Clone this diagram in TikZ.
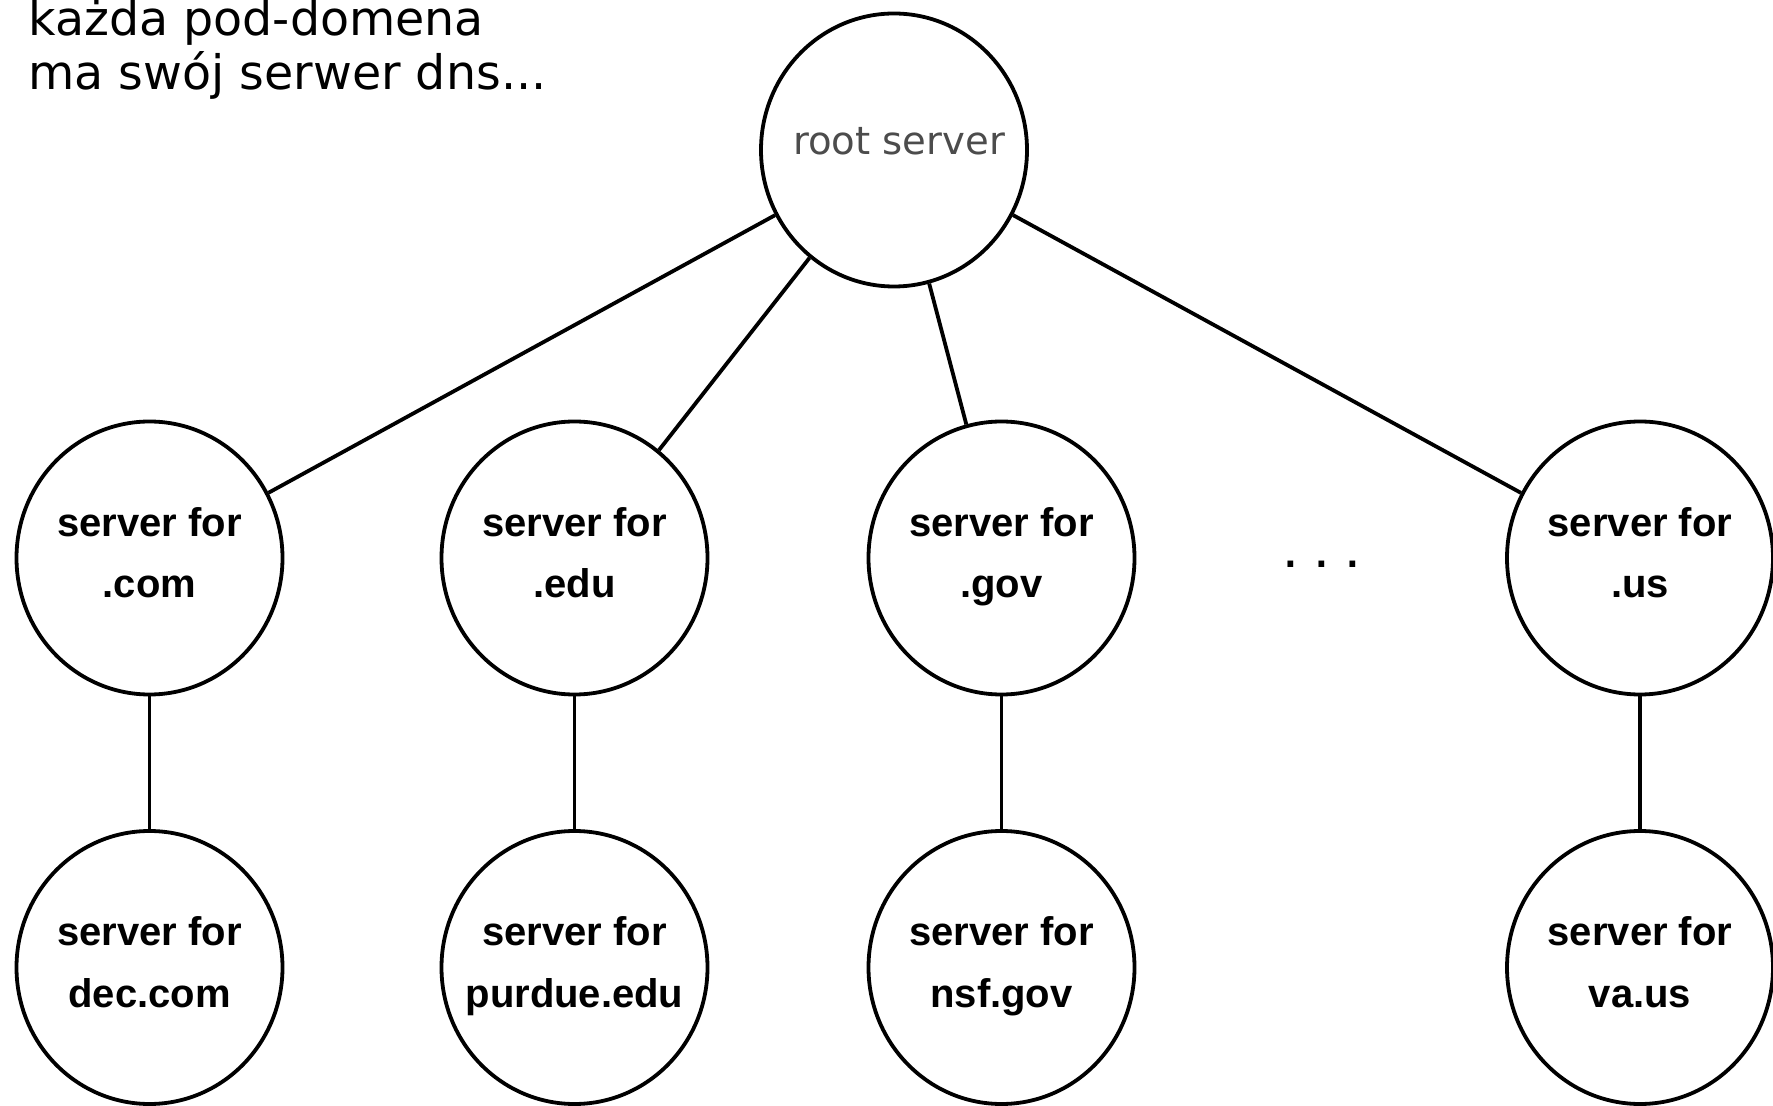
\documentclass[tikz,border=0pt]{standalone}
\usepackage{fontspec}
\usetikzlibrary{shapes.geometric}
\newfontfamily\titlefont{DejaVu Sans}
\newfontfamily\lblfont{Liberation Sans}
\newcommand\lblstrut{\rule[-6pt]{0pt}{21pt}}
\tikzset{
  circ/.style={ellipse, draw, line width=1.9pt, minimum width=133pt, minimum height=136.5pt, inner xsep=-12pt, inner ysep=0pt},
  srv/.style={circ, align=center, font=\lblfont\bfseries\fontsize{20}{30.75}\selectfont},
  rootsrv/.style={circ, text=black!70, font=\titlefont\fontsize{19.3}{23}\selectfont, text height=8pt, text depth=3pt},
  conn/.style={line width=1.9pt},
  title/.style={anchor=base west, inner sep=0pt, font=\titlefont\fontsize{23.75}{27.75}\selectfont}
}
\begin{document}
\begin{tikzpicture}[x=0.5pt,y=-0.5pt]
\useasboundingbox (0,0) rectangle (1773,1106);
\node[title] (t1) at (28,36) {każda pod-domena};
\node[title] (t2) at (28,90) {ma swój serwer dns...};
\node[rootsrv] (root) at (894,150) {\hspace*{5pt}root server};
\node[srv] (com) at (149.5,558) {\lblstrut server for\\\lblstrut .com};
\node[srv] (edu) at (574.5,558) {\lblstrut server for\\\lblstrut .edu};
\node[srv] (gov) at (1001.5,558) {\lblstrut server for\\\lblstrut .gov};
\node[srv] (us) at (1640,558) {\lblstrut server for\\\lblstrut .us};
\node[srv] (dec) at (149.5,967.5) {\lblstrut server for\\\lblstrut dec.com};
\node[srv] (purdue) at (574.5,967.5) {\lblstrut server for\\\lblstrut purdue.edu};
\node[srv] (nsf) at (1001.5,967.5) {\lblstrut server for\\\lblstrut nsf.gov};
\node[srv] (va) at (1640,967.5) {\lblstrut server for\\\lblstrut va.us};
\node[anchor=base, inner sep=0pt, font=\lblfont\fontsize{30}{36}\selectfont] (dots) at (1322,568) {.\hspace{7.3pt}.\hspace{7.3pt}.};
\draw[conn] (root) -- (com);
\draw[conn] (root) -- (edu);
\draw[conn] (root) -- (gov);
\draw[conn] (root) -- (us);
\draw[conn] (com) -- (dec);
\draw[conn] (edu) -- (purdue);
\draw[conn] (gov) -- (nsf);
\draw[conn] (us) -- (va);
\end{tikzpicture}
\end{document}
